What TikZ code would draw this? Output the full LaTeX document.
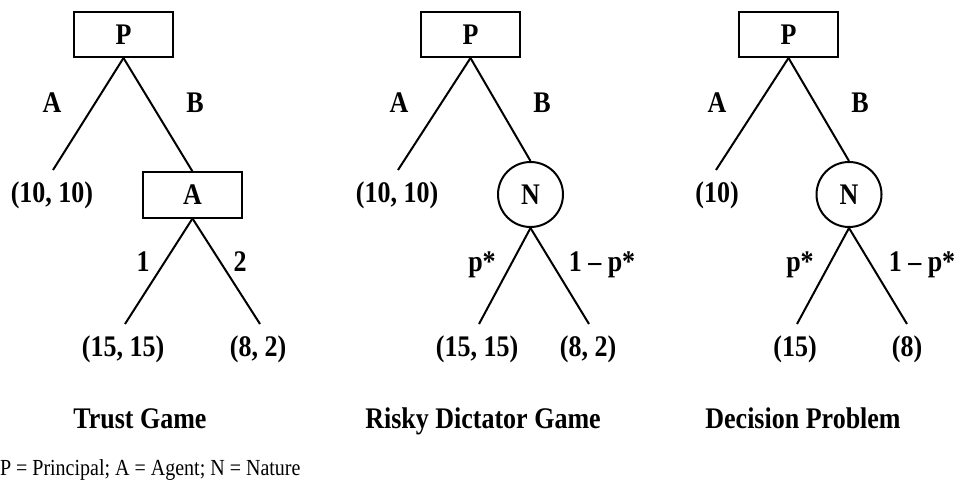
\documentclass[tikz,border=0pt]{standalone}
\usepackage{graphicx}
\usepackage{fontspec}
\setmainfont{Liberation Serif}
\newcommand{\tall}[1]{\scalebox{1}[1.15]{#1}}
\begin{document}
\begin{tikzpicture}[x=1pt,y=-1pt,
  line width=2pt,
  tt/.style={font=\fontsize{26}{30}\selectfont\bfseries, inner sep=0pt},
  playerbox/.style={tt, draw, minimum width=99pt, minimum height=45pt},
  naturecirc/.style={tt, draw, circle, minimum size=65pt},
  lbl/.style={tt, anchor=base},
  title/.style={font=\fontsize{26}{30}\selectfont\bfseries, inner sep=0pt, anchor=base},
  note/.style={font=\fontsize{20}{24}\selectfont, inner sep=0pt, anchor=base west}]
\useasboundingbox (0,0) rectangle (955,489);

% ---------- Trust Game ----------
\node[playerbox] (P1) at (123.5,34.5) {\tall{P}};
\node[playerbox] (A1) at (192.5,195) {\tall{A}};
\coordinate (L1) at (53,170);
\coordinate (LL1) at (125,324);
\coordinate (LR1) at (260,324);
\draw (P1.south) -- (L1);
\draw (P1.south) -- (A1.north);
\draw (A1.south) -- (LL1);
\draw (A1.south) -- (LR1);
\node[lbl] (a1) at (52,113) {\tall{A}};
\node[lbl] (b1) at (195,113) {\tall{B}};
\node[lbl] (o1) at (52,203) {\tall{(10, 10)}};
\node[lbl] (c1) at (143,271) {\tall{1}};
\node[lbl] (d1) at (240,271) {\tall{2}};
\node[lbl] (o2) at (123,356) {\tall{(15, 15)}};
\node[lbl] (o3) at (258,356) {\tall{(8, 2)}};
\node[title] (t1) at (140,428) {\tall{Trust Game}};

% ---------- Risky Dictator Game ----------
\node[playerbox] (P2) at (470.5,34.5) {\tall{P}};
\node[naturecirc] (N2) at (530.5,194.5) {\tall{N}};
\coordinate (L2) at (398,170);
\coordinate (LL2) at (479,324);
\coordinate (LR2) at (589,324);
\draw (P2.south) -- (L2);
\draw (P2.south) -- (N2.north);
\draw (N2.south) -- (LL2);
\draw (N2.south) -- (LR2);
\node[lbl] (a2) at (399,113) {\tall{A}};
\node[lbl] (b2) at (542,113) {\tall{B}};
\node[lbl] (o4) at (397,203) {\tall{(10, 10)}};
\node[lbl] (c2) at (482,271) {\tall{p*}};
\node[lbl] (d2) at (602,271) {\tall{1 – p*}};
\node[lbl] (o5) at (477,356) {\tall{(15, 15)}};
\node[lbl] (o6) at (588,356) {\tall{(8, 2)}};
\node[title] (t2) at (483,428) {\tall{Risky Dictator Game}};

% ---------- Decision Problem ----------
\node[playerbox] (P3) at (788.5,34.5) {\tall{P}};
\node[naturecirc] (N3) at (849,194.5) {\tall{N}};
\coordinate (L3) at (716,170);
\coordinate (LL3) at (797,324);
\coordinate (LR3) at (907,324);
\draw (P3.south) -- (L3);
\draw (P3.south) -- (N3.north);
\draw (N3.south) -- (LL3);
\draw (N3.south) -- (LR3);
\node[lbl] (a3) at (717,113) {\tall{A}};
\node[lbl] (b3) at (860,113) {\tall{B}};
\node[lbl] (o7) at (717,203) {\tall{(10)}};
\node[lbl] (c3) at (800,271) {\tall{p*}};
\node[lbl] (d3) at (922,271) {\tall{1 – p*}};
\node[lbl] (o8) at (795,356) {\tall{(15)}};
\node[lbl] (o9) at (907,356) {\tall{(8)}};
\node[title] (t3) at (803,428) {\tall{Decision Problem}};

\node[note] (key) at (-1,475) {\tall{P = Principal; A = Agent; N = Nature}};
\end{tikzpicture}
\end{document}
